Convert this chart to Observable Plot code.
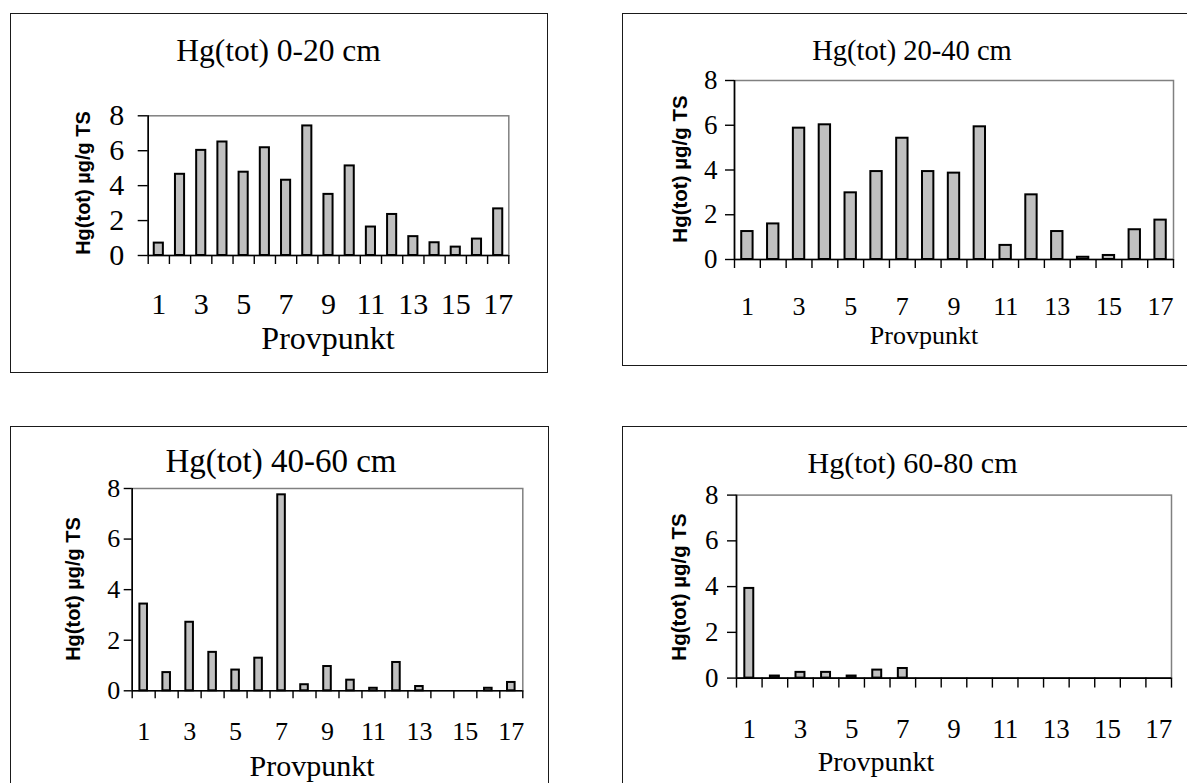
<!DOCTYPE html>
<html>
<head>
<meta charset="utf-8">
<script src="https://cdn.jsdelivr.net/npm/d3@7"></script>
<script src="https://cdn.jsdelivr.net/npm/@observablehq/plot@0.6"></script>
<style>
  html, body { margin: 0; padding: 0; background: #fff; }
  #page { position: relative; width: 1187px; height: 783px; overflow: hidden; background: #fff; }
  .box { position: absolute; box-sizing: border-box; border: 1.6px solid #1a1a1a; }
  .lbl { position: absolute; transform: translate(-50%, -50%); white-space: nowrap; line-height: 1; color: #000; }
  .serif { font-family: "Liberation Serif", "Times New Roman", serif; }
  .ylab { font-family: "Liberation Sans", Arial, sans-serif; font-weight: bold; transform: translate(-50%, -50%) rotate(-90deg); }
</style>
</head>
<body>
<div id="page"></div>
<script>
// Sample points along the transect
const provpunkt = [1, 2, 3, 4, 5, 6, 7, 8, 9, 10, 11, 12, 13, 14, 15, 16, 17];

// Hg(tot), µg/g TS, per depth interval
const hg0_20  = [0.71, 4.65, 6.02, 6.5, 4.77, 6.17, 4.31, 7.42, 3.5, 5.13, 1.63, 2.35, 1.08, 0.73, 0.48, 0.94, 2.67];
const hg20_40 = [1.25, 1.59, 5.87, 6.02, 2.98, 3.93, 5.42, 3.93, 3.86, 5.93, 0.63, 2.89, 1.25, 0.1, 0.18, 1.33, 1.76];
const hg40_60 = [3.43, 0.72, 2.71, 1.52, 0.82, 1.29, 7.75, 0.24, 0.96, 0.42, 0.1, 1.12, 0.17, null, null, 0.1, 0.33];
const hg60_80 = [3.92, 0.09, 0.25, 0.25, 0.09, 0.35, 0.42, null, null, null, null, null, null, null, null, null, null];

// Axis ticks and labels
const yTicks = [0, 2, 4, 6, 8];
const xTickLabels = [1, 3, 5, 7, 9, 11, 13, 15, 17];
const titles = ["Hg(tot) 0-20 cm", "Hg(tot) 20-40 cm", "Hg(tot) 40-60 cm", "Hg(tot) 60-80 cm"];
const xLabel = "Provpunkt";
const yLabel = "Hg(tot) µg/g TS";

// Category boundaries, where the x-axis tick marks sit
const bounds = provpunkt.map(p => p - 0.5).concat(provpunkt[provpunkt.length - 1] + 0.5);

const page = document.getElementById("page");

function addLabel(text, x, y, size, cls) {
  const d = document.createElement("div");
  d.className = "lbl " + cls;
  d.textContent = text;
  d.style.left = x + "px";
  d.style.top = y + "px";
  d.style.fontSize = size + "px";
  page.appendChild(d);
}

function panel(c) {
  // framing box
  const box = document.createElement("div");
  box.className = "box";
  Object.assign(box.style, { left: c.L + "px", top: c.T + "px", width: (c.R - c.L) + "px", height: (c.B - c.T) + "px" });
  page.appendChild(box);

  const data = provpunkt.map((p, i) => ({ p, v: c.values[i] })).filter(d => d.v != null);

  const svg = Plot.plot({
    width: c.R - c.L,
    height: c.B - c.T,
    marginLeft: c.pL - c.L,
    marginRight: c.R - c.pR,
    marginTop: c.pT - c.T,
    marginBottom: c.B - c.pB,
    x: { type: "linear", domain: [0.5, 17.5] },
    y: { type: "linear", domain: [0, 8] },
    style: { fontFamily: "'Liberation Serif', 'Times New Roman', serif", color: "#000", background: "transparent", overflow: "visible" },
    marks: [
      Plot.frame({ stroke: "#808080", strokeWidth: 1.5 }),
      Plot.rectY(data, {
        x1: d => d.p - c.half,
        x2: d => d.p + c.half,
        y1: 0,
        y2: "v",
        fill: "#c0c0c0",
        stroke: "#000",
        strokeWidth: 2
      }),
      Plot.ruleY([0], { stroke: "#000", strokeWidth: 1.6 }),
      Plot.ruleX([0.5], { stroke: "#000", strokeWidth: 1.6 }),
      Plot.axisY({ ticks: yTicks, tickSize: c.yTick, tickPadding: c.yPad, fontSize: c.tickFont, label: null, strokeWidth: 1.4, tickFormat: d => String(d) }),
      Plot.axisX({ ticks: bounds, tickSize: c.xTick, tickFormat: () => "", label: null, strokeWidth: 1.4 }),
      Plot.axisX({ ticks: xTickLabels, tickSize: 0, tickPadding: c.xPad, fontSize: c.xTickFont || c.tickFont, label: null, tickFormat: d => String(d) })
    ]
  });
  svg.style.position = "absolute";
  svg.style.left = c.L + "px";
  svg.style.top = c.T + "px";
  page.appendChild(svg);

  addLabel(c.title, c.title_x, c.title_y, c.titleFont, "serif");
  addLabel(xLabel, c.xl_x, c.xl_y, c.xlFont, "serif");
  addLabel(yLabel, c.yl_x, c.yl_y, c.ylFont, "ylab");
}

panel({ values: hg0_20, title: titles[0],
  L: 10, T: 13, R: 548, B: 373, pL: 147.7, pR: 508.3, pT: 115.3, pB: 255,
  half: 0.215, yTick: 10, yPad: 14, xTick: 9, xPad: 37, tickFont: 30,
  title_x: 278.5, title_y: 51, titleFont: 31.5,
  xl_x: 328, xl_y: 338, xlFont: 32, yl_x: 83, yl_y: 183, ylFont: 20 });

panel({ values: hg20_40, title: titles[1],
  L: 622, T: 13, R: 1195, B: 366, pL: 734, pR: 1173, pT: 80, pB: 259,
  half: 0.22, yTick: 9, yPad: 8, xTick: 9, xPad: 37, tickFont: 27, xTickFont: 26,
  title_x: 912, title_y: 51, titleFont: 28.5,
  xl_x: 924, xl_y: 336, xlFont: 26, yl_x: 680, yl_y: 169, ylFont: 20.5 });

panel({ values: hg40_60, title: titles[2],
  L: 10, T: 425.7, R: 549, B: 800, pL: 131.7, pR: 522.3, pT: 487.7, pB: 690,
  half: 0.165, yTick: 8, yPad: 4, xTick: 8, xPad: 31, tickFont: 26,
  title_x: 281, title_y: 461, titleFont: 33,
  xl_x: 312, xl_y: 766, xlFont: 30, yl_x: 73, yl_y: 589, ylFont: 20 });

panel({ values: hg60_80, title: titles[3],
  L: 622, T: 425.7, R: 1195, B: 800, pL: 736, pR: 1171, pT: 494.3, pB: 677.3,
  half: 0.175, yTick: 9, yPad: 9, xTick: 10, xPad: 40.5, tickFont: 27,
  title_x: 912.5, title_y: 463, titleFont: 30,
  xl_x: 876, xl_y: 762, xlFont: 28, yl_x: 679, yl_y: 587, ylFont: 20.5 });
</script>
</body>
</html>
